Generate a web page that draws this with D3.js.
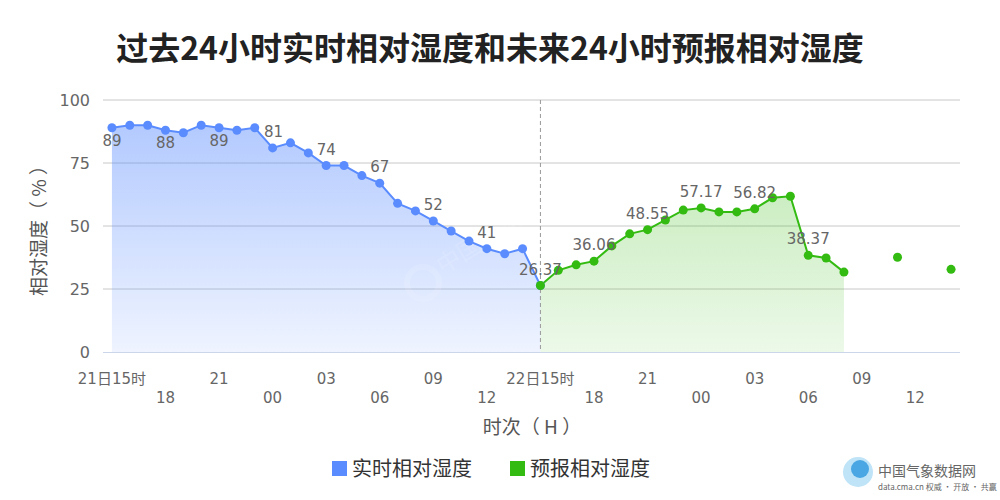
<!DOCTYPE html>
<html>
<head>
<meta charset="utf-8">
<script src="https://cdn.jsdelivr.net/npm/d3@7"></script>
<style>
  html, body { margin: 0; padding: 0; background: #fff; }
  svg text { font-family: "Noto Sans CJK SC", "Noto Sans", sans-serif; }
</style>
</head>
<body>
<svg id="chart" width="1000" height="500"></svg>
<script>
/* dati */
const hours      = d3.range(48);              // 21日15时 .. 23日14时
const tickLabels = ["21日15时","18","21","00","03","06","09","12",
                    "22日15时","18","21","00","03","06","09","12"];
const obsValues  = [89,90,90,88,87,90,89,88,89,81,83,79,74,74,70,67,
                    59,56,52,48,44,41,39,41,26.37];          // h0..h24
const fcstValues = [26.37,32.4,34.6,36.06,42.1,46.9,48.55,52.4,56.3,57.17,
                    55.6,55.6,56.82,61.2,61.8,38.37,37.3,31.7,
                    null,null,37.6,null,null,32.8];            // h24..h47
const yTicks     = [0,25,50,75,100];
const seriesNames = ["实时相对湿度","预报相对湿度"];

const BLUE  = "#5a8cff";
const GREEN = "#33bb11";

const svg = d3.select("#chart");
const L = 103, R = 960, T = 100, B = 352;

const x = d3.scaleBand().domain(hours).range([L, R]);
const cx = h => x(h) + x.bandwidth() / 2;
const y = d3.scaleLinear().domain([0, 100]).range([B, T]);

const obs  = obsValues.map((v, i) => ({ h: i, v }));
const fcst = fcstValues.map((v, i) => ({ h: i + 24, v }));

/* ── TITOLO ─────────────────────── */
svg.append("text")
  .attr("x", 490).attr("y", 60)
  .attr("text-anchor", "middle")
  .attr("font-size", 32).attr("font-weight", "bold")
  .attr("fill", "#222")
  .text("过去24小时实时相对湿度和未来24小时预报相对湿度");

/* ── GRADIENTI ──────────────────── */
const defs = svg.append("defs");
function gradiente(id, col, a0, a1) {
  const g = defs.append("linearGradient").attr("id", id)
    .attr("gradientUnits", "userSpaceOnUse")
    .attr("x1", 0).attr("y1", T).attr("x2", 0).attr("y2", B);
  g.append("stop").attr("offset", 0).attr("stop-color", col).attr("stop-opacity", a0);
  g.append("stop").attr("offset", 1).attr("stop-color", col).attr("stop-opacity", a1);
}
gradiente("gBlue",  "#5a8cff", 0.5, 0.1);
gradiente("gGreen", "#44c022", 0.38, 0.1);

/* ── GRIGLIA ────────────────────── */
svg.append("g")
  .selectAll("line").data(yTicks.filter(d => d > 0)).join("line")
  .attr("x1", L).attr("x2", R)
  .attr("y1", d => y(d)).attr("y2", d => y(d))
  .attr("stroke", "#c8c8c8").attr("stroke-width", 1);

const yAxis = svg.append("g")
  .attr("transform", `translate(${L},0)`)
  .call(d3.axisLeft(y).tickValues(yTicks).tickSize(0).tickPadding(13));
yAxis.select(".domain").remove();
yAxis.selectAll("text")
  .attr("font-size", 16).attr("fill", "#666")
  .style("font-family", "'DejaVu Sans', sans-serif");

svg.append("text")
  .attr("transform", `translate(46,${(T + B) / 2}) rotate(-90)`)
  .attr("text-anchor", "middle")
  .attr("font-size", 19).attr("fill", "#555")
  .text("相对湿度（ % ）");

/* ── AREE E LINEE ───────────────── */
const area = d3.area()
  .defined(d => d.v != null)
  .x(d => cx(d.h)).y0(B).y1(d => y(d.v));
const line = d3.line()
  .defined(d => d.v != null)
  .x(d => cx(d.h)).y(d => y(d.v));

svg.append("path").datum(obs).attr("d", area).attr("fill", "url(#gBlue)");
svg.append("path").datum(fcst).attr("d", area).attr("fill", "url(#gGreen)");

// watermark
const wm = svg.append("g").attr("opacity", 0.12)
  .attr("transform", "translate(423,283)");
wm.append("circle").attr("r", 16).attr("fill", "none").attr("stroke", "#fff").attr("stroke-width", 6);
wm.append("text")
  .attr("transform", "translate(20,-8) rotate(-32)")
  .attr("font-size", 24).attr("fill", "#fff")
  .text("中国气象数据网");

/* asse x */
svg.append("line")
  .attr("x1", L).attr("x2", R).attr("y1", B + 0.5).attr("y2", B + 0.5)
  .attr("stroke", "#ccd6eb");

svg.append("line")
  .attr("x1", cx(24)).attr("x2", cx(24)).attr("y1", T).attr("y2", B)
  .attr("stroke", "#999").attr("stroke-dasharray", "4,3");

svg.append("path").datum(obs).attr("d", line)
  .attr("fill", "none").attr("stroke", BLUE).attr("stroke-width", 2);
svg.append("path").datum(fcst).attr("d", line)
  .attr("fill", "none").attr("stroke", GREEN).attr("stroke-width", 2);

svg.append("g").selectAll("circle").data(obs).join("circle")
  .attr("cx", d => cx(d.h)).attr("cy", d => y(d.v)).attr("r", 4.5)
  .attr("fill", BLUE);
svg.append("g").selectAll("circle").data(fcst.filter(d => d.v != null)).join("circle")
  .attr("cx", d => cx(d.h)).attr("cy", d => y(d.v)).attr("r", 4.5)
  .attr("fill", GREEN);

/* etichette ogni 3 ore */
const etichette = obs.filter(d => d.h % 3 === 0 && d.h < 24)
  .concat(fcst.filter(d => d.h % 3 === 0 && d.v != null));
svg.append("g").selectAll("text").data(etichette).join("text")
  .attr("x", d => cx(d.h) + (d.h === 9 ? 1 : 0))
  .attr("y", d => y(d.v) + (d.v > 85 ? 18 : -11))
  .attr("text-anchor", "middle")
  .attr("font-size", 15).attr("fill", "#666")
  .style("font-family", "'DejaVu Sans', sans-serif")
  .text(d => d.v);

/* etichette asse x, due righe alternate */
svg.append("g").selectAll("text").data(tickLabels).join("text")
  .attr("x", (d, i) => cx(i * 3))
  .attr("y", (d, i) => i % 2 === 0 ? 384 : 403)
  .attr("text-anchor", "middle")
  .attr("font-size", 15).attr("fill", "#666")
  .style("font-family", "'DejaVu Sans', 'Noto Sans CJK SC', sans-serif")
  .text(d => d);

svg.append("text")
  .attr("x", 532).attr("y", 434)
  .attr("text-anchor", "middle")
  .attr("font-size", 19).attr("fill", "#555")
  .text("时次（ H ）");

/* ── LEGENDA ────────────────────── */
const leg = svg.append("g");
[[332, BLUE], [510, GREEN]].forEach(([lx, col], i) => {
  leg.append("rect").attr("x", lx).attr("y", 461).attr("width", 15).attr("height", 15).attr("fill", col);
  leg.append("text").attr("x", lx + 20).attr("y", 476)
    .attr("font-size", 20).attr("fill", "#333")
    .text(seriesNames[i]);
});

/* logo */
const logo = svg.append("g").attr("transform", "translate(858,472)");
logo.append("circle").attr("r", 15).attr("fill", "#bfe3f7");
logo.append("circle").attr("r", 9).attr("cx", 2).attr("cy", -3).attr("fill", "#4aa7e3");
logo.append("text").attr("x", 20).attr("y", 4)
  .attr("font-size", 14).attr("fill", "#666").text("中国气象数据网");
logo.append("text").attr("x", 20).attr("y", 18)
  .attr("font-size", 8).attr("fill", "#666").text("data.cma.cn 权威 · 开放 · 共赢");
</script>
</body>
</html>
